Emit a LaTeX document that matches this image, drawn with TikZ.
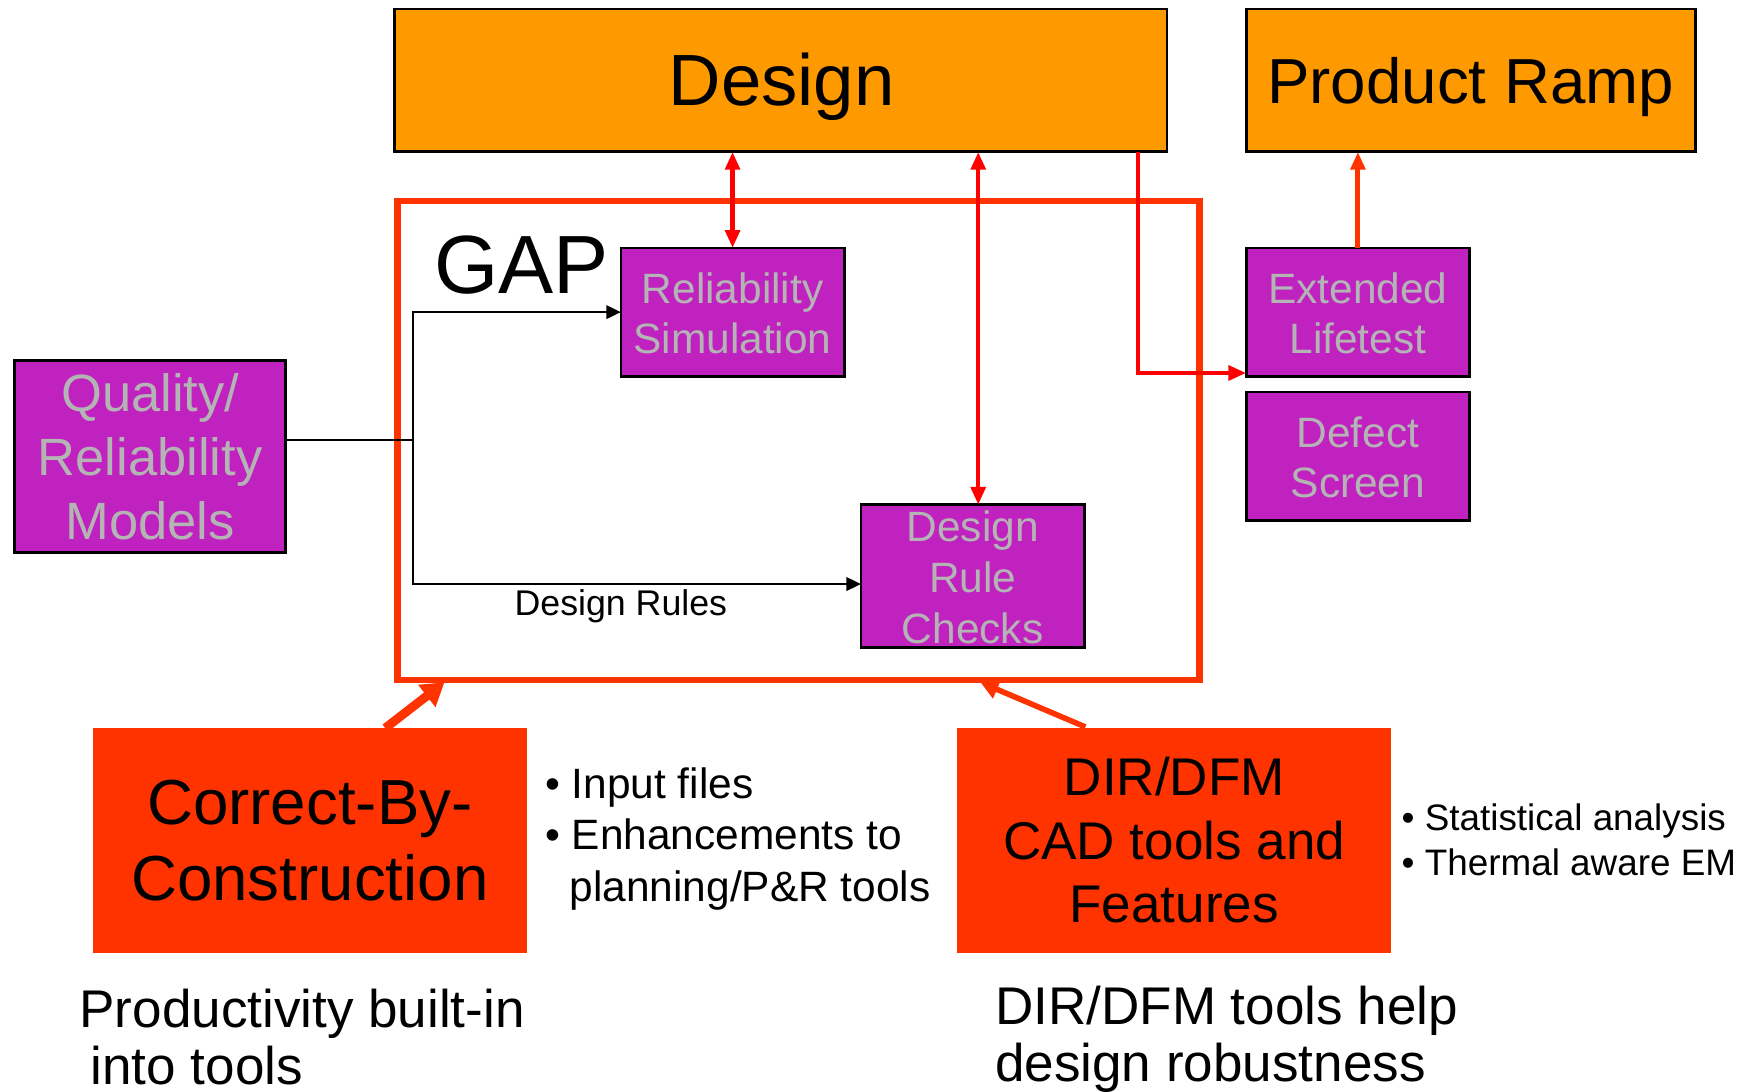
\documentclass[tikz,border=0pt]{standalone}
\usepackage{fontspec}
\setmainfont{Liberation Sans}
\usetikzlibrary{arrows.meta,calc}
\definecolor{orangeD}{HTML}{FF9900}
\definecolor{purp}{HTML}{C022C0}
\definecolor{grayT}{HTML}{B4B4B4}
\definecolor{redO}{HTML}{FF3300}
\definecolor{redR}{HTML}{FF0000}
\begin{document}
\begin{tikzpicture}[x=1pt,y=-1pt,
  topbox/.style={draw=black,line width=2.5pt,fill=orangeD,inner sep=0pt,outer sep=0pt},
  purpbox/.style={draw=black,line width=2.5pt,fill=purp,inner sep=0pt,outer sep=0pt,minimum width=200pt,minimum height=115pt},
  redbox/.style={fill=redO,inner sep=0pt,outer sep=0pt,minimum width=389pt,minimum height=201pt},
  ptext/.style={text=grayT,align=center,inner sep=0pt},
  redhead/.style={-{Triangle[length=16pt,width=13pt]}},
  redarrow/.style={draw=redR,line width=4pt,redhead},
  dblred/.style={draw=redR,line width=4pt,{Triangle[length=16pt,width=13pt]}-{Triangle[length=16pt,width=13pt]}},
  blackarrow/.style={draw=black,line width=2pt,-{Triangle[length=13pt,width=12pt]}},
]
\useasboundingbox (0,0) rectangle (1568,977);
\fill[white] (0,0) rectangle (1568,977);

% top boxes
\node[topbox,minimum width=692pt,minimum height=128pt] (design) at (699,72) {};
\node[inner sep=0pt,font=\fontsize{65}{78}\selectfont] (designt) at ($(design.center)+(1,6)$) {Design};
\node[topbox,minimum width=402pt,minimum height=128pt] (pr) at (1317,72) {};
\node[inner sep=0pt,font=\fontsize{57}{68}\selectfont] (prt) at ($(pr.center)+(0,6)$) {Product Ramp};

% GAP box
\node[draw=redO,line width=6pt,minimum width=718pt,minimum height=429pt,inner sep=0pt,outer sep=0pt] (gap) at (715,394.5) {};
\node[font=\fontsize{74}{80}\selectfont,inner sep=0pt] (gaptext) at (467,237) {GAP};

% purple boxes
\node[purpbox] (rs) at (656,279.5) {};
\node[ptext,font=\fontsize{38}{45}\selectfont] (rst) at ($(rs.center)+(0,1)$) {Reliability\\Simulation};
\node[purpbox] (ext) at (1216,279.5) {};
\node[ptext,font=\fontsize{38}{45}\selectfont] (extt) at ($(ext.center)+(0,1)$) {Extended\\Lifetest};
\node[purpbox] (def) at (1216,408.5) {};
\node[ptext,font=\fontsize{38}{45}\selectfont] (deft) at ($(def.center)+(0,1)$) {Defect\\Screen};
\node[purpbox,minimum width=243pt,minimum height=172pt] (qr) at (134.5,409) {};
\node[ptext,font=\fontsize{47}{57}\selectfont] (qrt) at (qr.center) {Quality/\\Reliability\\Models};
\node[purpbox,minimum height=128pt] (drc) at (871,516) {};
\node[ptext,font=\fontsize{38}{46}\selectfont] (drct) at ($(drc.center)+(0,1)$) {Design\\Rule\\Checks};

% red boxes
\node[redbox,font=\fontsize{57}{68}\selectfont,align=center] (cbc) at (277.5,752.5) {Correct-By-\\Construction};
\node[redbox,font=\fontsize{47.5}{57}\selectfont,align=center] (dir) at (1051.5,752.5) {DIR/DFM\\CAD tools and\\Features};

% black connectors
\coordinate (j1) at (370,394);
\draw[line width=2pt] (qr.east |- j1) -- (j1);
\draw[blackarrow] (j1) |- (rs.west);
\draw[blackarrow] (j1) |- ($(drc.west)+(0,7)$);
\node[font=\fontsize{32}{38}\selectfont,inner sep=0pt] (drl) at (556,543) {Design Rules};

% red connectors
\coordinate (c2) at (876,0);
\coordinate (c3) at (1019,0);
\draw[dblred] (rs.north |- design.south) -- (rs.north);
\draw[dblred] (c2 |- design.south) -- (c2 |- drc.north);
\draw[redarrow] (c3 |- design.south) |- ($(ext.south west)+(0,-3)$);
\draw[draw=redO,line width=4.5pt,redhead] (ext.north) -- (ext.north |- pr.south);

% thick arrows into GAP
\draw[draw=redO,line width=8pt,-{Triangle[length=20pt,width=24pt]}] ($(cbc.north west)+(262,0)$) -- ($(gap.south west)+(42,2)$);
\draw[draw=redO,line width=5pt,-{Triangle[length=16pt,width=17pt]}] ($(dir.north west)+(115,-1)$) -- ($(gap.south west)+(522,2)$);

% bullet texts
\node[anchor=west,align=left,inner sep=0pt,font=\fontsize{38}{46}\selectfont] (b1) at (488,751)
  {\textbullet\ Input files\\\textbullet\ Enhancements to\\\hspace*{22pt}planning/P\&R tools};
\node[anchor=west,align=left,inner sep=0pt,font=\fontsize{33}{40}\selectfont] (b2) at (1255,752)
  {\textbullet\ Statistical analysis\\\textbullet\ Thermal aware EM};

% bottom captions
\node[anchor=west,align=left,inner sep=0pt,font=\fontsize{47.5}{51}\selectfont] (cap1) at (71,929)
  {Productivity built-in\\\hspace*{10pt}into tools};
\node[anchor=west,align=left,inner sep=0pt,font=\fontsize{47.5}{51}\selectfont] (cap2) at (891,931)
  {DIR/DFM tools help\\design robustness};
\end{tikzpicture}
\end{document}
